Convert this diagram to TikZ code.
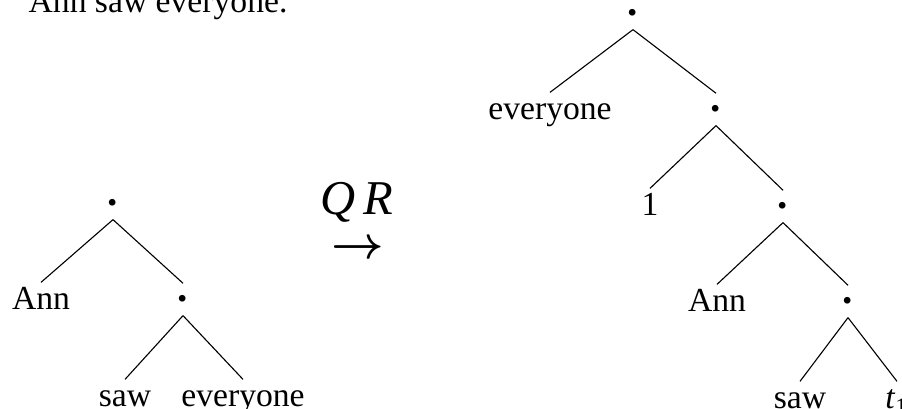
\documentclass[tikz,border=0pt]{standalone}
\usepackage{fontspec}
\setmainfont{Liberation Serif}
\usepackage{tikz}
\usetikzlibrary{positioning}

\begin{document}
\begin{tikzpicture}[x=0.315pt, y=-0.315pt,
    font=\fontsize{10.6pt}{13pt}\selectfont,
    dotnode/.style={inner sep=0pt, text height=5.7pt, text depth=4.1pt, anchor=base,
      font=\fontsize{13pt}{15pt}\selectfont\bfseries},
    leafnode/.style={inner sep=0pt, text height=8.5pt, text depth=0pt, anchor=base},
    bigtext/.style={anchor=base, inner sep=0pt, font=\fontsize{15.3pt}{18pt}\selectfont},
    branch/.style={line width=0.35pt}]
        \useasboundingbox (0,0) rectangle (902,409);

        % Sentence
        \node[anchor=base west, inner sep=0pt] (sentence) at (28,13) {Ann saw everyone.};

        % Left tree
        \node[dotnode] (l0) at (113,206) {.};
        \node[leafnode] (lann) at (41,310) {Ann};
        \node[dotnode] (l1) at (183,302) {.};
        \node[leafnode] (lsaw) at (125,407) {saw};
        \node[leafnode] (lev) at (243,407) {everyone};

        \draw[branch] (l0.south) -- (lann.north);
        \draw[branch] (l0.south) -- (l1.north);
        \draw[branch] (l1.south) -- (lsaw.north);
        \draw[branch] (l1.south) -- (lev.north);

        % QR arrow
        \node[bigtext] (qr) at (357,215) {\textit{Q\,R}};
        \node[bigtext, font=\fontsize{15.3pt}{18pt}\selectfont\mathversion{bold}] (arrow) at (358,259) {$\rightarrow$};

        % Right tree
        \node[dotnode] (r0) at (633,16) {.};
        \node[leafnode] (rev) at (550,120) {everyone};
        \node[dotnode] (r1) at (716,112) {.};
        \node[leafnode] (rone) at (650,216) {1};
        \node[dotnode] (r2) at (783,209) {.};
        \node[leafnode] (rann) at (717,312) {Ann};
        \node[dotnode] (r3) at (848,304) {.};
        \node[leafnode] (rsaw) at (800,409) {saw};
        \node[leafnode] (rt) at (897,409) {\textit{t}\textsubscript{1}};

        \draw[branch] (r0.south) -- (rev.north);
        \draw[branch] (r0.south) -- (r1.north);
        \draw[branch] (r1.south) -- (rone.north);
        \draw[branch] (r1.south) -- (r2.north);
        \draw[branch] (r2.south) -- (rann.north);
        \draw[branch] (r2.south) -- (r3.north);
        \draw[branch] (r3.south) -- (rsaw.north);
        \draw[branch] (r3.south) -- (rt.north);

      \end{tikzpicture}
\end{document}
